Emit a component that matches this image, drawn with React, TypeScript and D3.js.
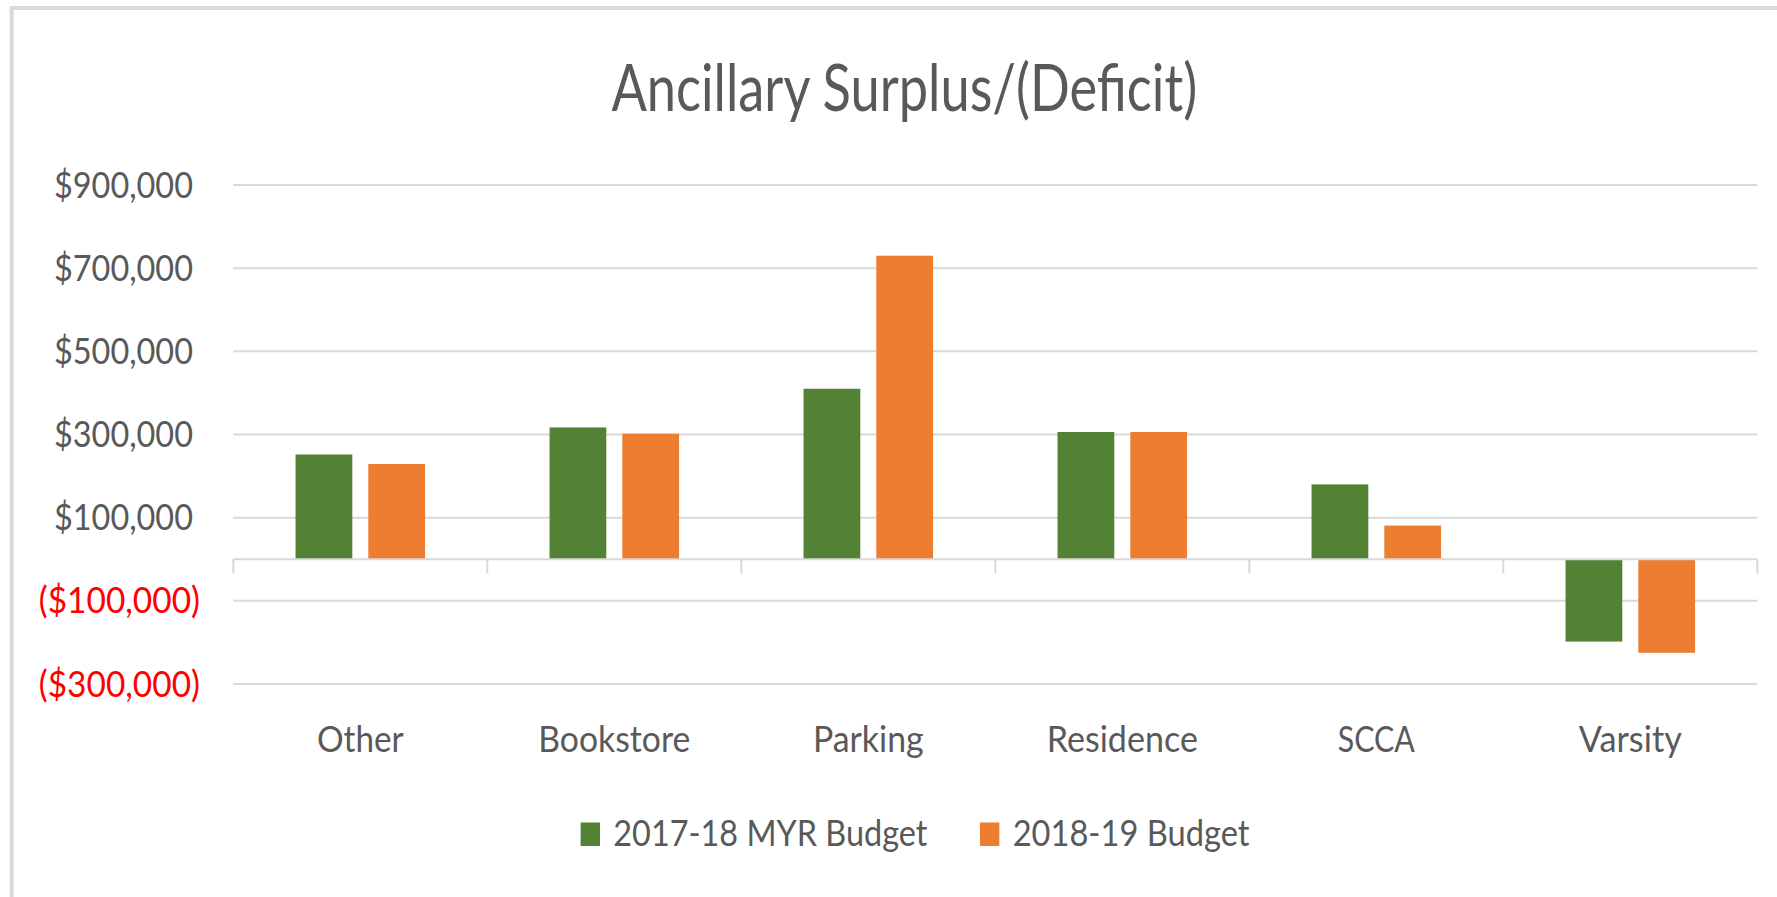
import React from 'react';
import * as d3 from 'd3';

// ---------- data ----------
const categories = ['Other', 'Bookstore', 'Parking', 'Residence', 'SCCA', 'Varsity'];
const seriesNames = ['2017-18 MYR Budget', '2018-19 Budget'];
const budget1718 = [252000, 317000, 410000, 306000, 180000, -198000];
const budget1819 = [229000, 302000, 730000, 306000, 81000, -225000];
const yTicks = [-300000, -100000, 100000, 300000, 500000, 700000, 900000];
const seriesColors = ['#548235', '#ed7d31'];
const chartTitle = 'Ancillary Surplus/(Deficit)';

const seriesValues = [budget1718, budget1819];

// ---------- layout ----------
const W = 1777;
const H = 897;
const plot = { left: 233.3, right: 1757.3, top: 185, bottom: 684 };
const FONT = 'Lato, "Open Sans", "Noto Sans", sans-serif';
const TEXT = '#595959';
const GRID = '#d9d9d9';
const SMALL_SIZE = 36.5;
const SMALL_EM = 36.6; // horizontal em (text is rendered condensed)
const TITLE_SIZE = 66;
const TITLE_EM = 56.6;

// Calibri advance widths (em) for condensed text fitting
const CAL: Record<string, number> = {
  '0': 0.507, '1': 0.507, '2': 0.507, '3': 0.507, '4': 0.507, '5': 0.507, '6': 0.507, '7': 0.507, '8': 0.507, '9': 0.507,
  '$': 0.507, ',': 0.25, '(': 0.303, ')': 0.303, '-': 0.306, ' ': 0.226, '/': 0.386,
  A: 0.579, B: 0.544, C: 0.533, D: 0.615, M: 0.855, O: 0.662, P: 0.517, R: 0.543, S: 0.459, V: 0.579, Y: 0.487,
  a: 0.479, b: 0.525, c: 0.423, d: 0.525, e: 0.498, f: 0.305, g: 0.471, h: 0.525, i: 0.229, k: 0.455, l: 0.229,
  n: 0.525, o: 0.527, p: 0.525, r: 0.349, s: 0.391, t: 0.335, u: 0.525, y: 0.453,
};
const calW = (s: string) => s.split('').reduce((acc, ch) => acc + (CAL[ch] ?? 0.5), 0);

const money = d3.format('$,.0f');
const fmt = (v: number) => (v < 0 ? `(${money(-v)})` : money(v));

export default function App() {
  const y = d3.scaleLinear().domain([-300000, 900000]).range([plot.bottom, plot.top]);
  const x0 = d3
    .scaleBand<string>()
    .domain(categories)
    .range([plot.left, plot.right])
    .paddingInner(0.49)
    .paddingOuter(0.245);
  const x1 = d3
    .scaleBand<string>()
    .domain(seriesNames)
    .range([0, x0.bandwidth()])
    .paddingInner(0.22);

  const y0 = y(0);
  const step = x0.step();
  const tickXs = d3.range(categories.length + 1).map((i) => plot.left + i * step);

  const legendStartX = 580.6;
  const swatchW = 19.4;
  const swatchH = 23.5;
  const legendBaseline = 846;
  const legendItems: { x: number; tx: number; name: string; color: string }[] = [];
  let lx = legendStartX;
  seriesNames.forEach((name, i) => {
    legendItems.push({ x: lx, tx: lx + swatchW + 13.3, name, color: seriesColors[i] });
    lx = lx + swatchW + 13.3 + calW(name) * SMALL_EM + 52.5;
  });

  return (
    <svg
      width={W}
      height={H}
      style={{ position: 'absolute', left: 0, top: 0, display: 'block', background: '#fff' }}
      fontFamily={FONT}
    >
      <rect x={0} y={0} width={W} height={H} fill="#fff" />
      {/* chart frame */}
      <rect x={11.7} y={8} width={W + 100} height={H + 100} fill="none" stroke={GRID} strokeWidth={4} />

      {/* title */}
      <text
        x={904.3}
        y={111}
        textAnchor="middle"
        fontSize={TITLE_SIZE}
        fill={TEXT}
        textLength={calW(chartTitle) * TITLE_EM}
        lengthAdjust="spacingAndGlyphs"
      >
        {chartTitle}
      </text>

      {/* gridlines + y labels */}
      {yTicks.map((t) => (
        <g key={t}>
          <line x1={plot.left} x2={plot.right} y1={y(t)} y2={y(t)} stroke={GRID} strokeWidth={2} />
          <text
            x={t < 0 ? 200 : 193}
            y={y(t) + 12.6}
            textAnchor="end"
            fontSize={SMALL_SIZE}
            fill={t < 0 ? '#ff0000' : TEXT}
            textLength={calW(fmt(t)) * SMALL_EM}
            lengthAdjust="spacingAndGlyphs"
          >
            {fmt(t)}
          </text>
        </g>
      ))}

      {/* bars */}
      {categories.map((c, ci) => (
        <g key={c} transform={`translate(${x0(c)},0)`}>
          {seriesNames.map((s, si) => {
            const v = seriesValues[si][ci];
            const yv = y(v);
            return (
              <rect
                key={s}
                x={x1(s)}
                y={Math.min(yv, y0)}
                width={x1.bandwidth()}
                height={Math.abs(yv - y0)}
                fill={seriesColors[si]}
              />
            );
          })}
        </g>
      ))}

      {/* zero axis + ticks */}
      <line x1={plot.left} x2={plot.right} y1={y0} y2={y0} stroke={GRID} strokeWidth={2} />
      {tickXs.map((tx, i) => (
        <line key={i} x1={tx} x2={tx} y1={y0} y2={y0 + 14} stroke={GRID} strokeWidth={2} />
      ))}

      {/* category labels */}
      {categories.map((c) => (
        <text
          key={c}
          x={(x0(c) as number) + x0.bandwidth() / 2}
          y={751.7}
          textAnchor="middle"
          fontSize={SMALL_SIZE}
          fill={TEXT}
          textLength={calW(c) * SMALL_EM}
          lengthAdjust="spacingAndGlyphs"
        >
          {c}
        </text>
      ))}

      {/* legend */}
      {legendItems.map((it) => (
        <g key={it.name}>
          <rect x={it.x} y={legendBaseline - swatchH} width={swatchW} height={swatchH} fill={it.color} />
          <text
            x={it.tx}
            y={legendBaseline}
            fontSize={SMALL_SIZE}
            fill={TEXT}
            textLength={calW(it.name) * SMALL_EM}
            lengthAdjust="spacingAndGlyphs"
          >
            {it.name}
          </text>
        </g>
      ))}
    </svg>
  );
}
